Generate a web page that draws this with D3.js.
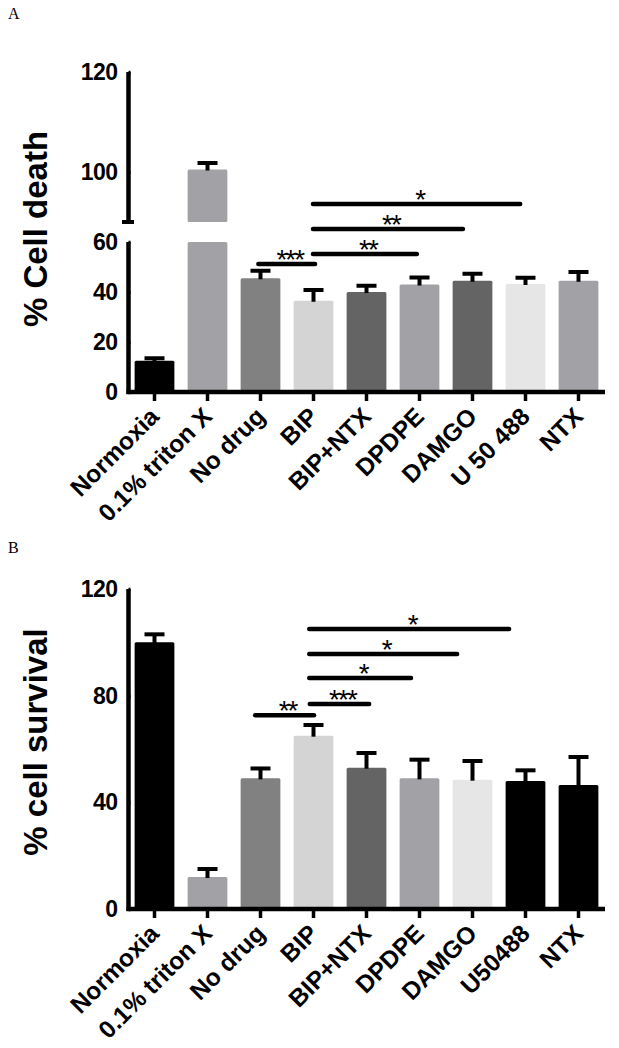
<!DOCTYPE html>
<html><head><meta charset="utf-8">
<script src="https://cdn.jsdelivr.net/npm/d3@7"></script>
<style>body{margin:0;background:#fff} svg{display:block}</style>
</head><body><svg id="c" width="619" height="1048"></svg>
<script>
// ---------- data ----------
const categoriesA = ["Normoxia","0.1% triton X","No drug","BIP","BIP+NTX","DPDPE","DAMGO","U 50 488","NTX"];
const categoriesB = ["Normoxia","0.1% triton X","No drug","BIP","BIP+NTX","DPDPE","DAMGO","U50488","NTX"];
const deathMean = [12.5, 100.5, 45.5, 36.5, 40, 43, 44.5, 43.2, 44.5];
const deathErr  = [1.0, 1.3, 3.0, 4.3, 2.5, 2.8, 2.8, 2.5, 3.5];
const survivalMean = [100, 12, 49, 65, 53, 49, 48.5, 48, 46.5];
const survivalErr  = [3.0, 3.0, 3.7, 4.0, 5.5, 7.0, 7.0, 4.0, 10.5];
const deathTicksLow = [0, 20, 40, 60];
const deathTicksHigh = [100, 120];
const survivalTicks = [0, 40, 80, 120];
// significance: [fromIndex, toIndex, yValue, label]
const sigDeath = [[1.96, 3.03, 51.2, "***"], [2.99, 4.95, 55.2, "**"], [2.99, 5.82, 65.2, "**"], [2.99, 6.9, 75.2, "*"]];
const sigSurvival = [[1.9, 3.01, 72.7, "**"], [2.93, 4.05, 76.9, "***"], [2.92, 4.84, 86.6, "*"], [2.92, 5.71, 95.6, "*"], [2.92, 6.69, 105, "*"]];

// ---------- styles ----------
const fillA = ["#000000","#a2a2a6","#818181","#d4d4d4","#646464","#a2a2a6","#646464","#e6e6e6","#a2a2a6"];
const fillB = ["#000000","#a2a2a6","#818181","#d4d4d4","#646464","#a2a2a6","#e6e6e6","#000000","#000000"];
const FONT = "'Liberation Sans', Arial, Helvetica, sans-serif";

const svg = d3.select("#c");

function panel(o) {
  const g = svg.append("g");
  const x = d3.scaleBand().domain(o.cats).range([128, 605]).paddingInner(0.25).paddingOuter(0.125);
  const bw = x.bandwidth();
  const cx = c => x(c) + bw / 2;
  const xi = d3.scaleLinear().domain([0, o.cats.length - 1]).range([cx(o.cats[0]), cx(o.cats[o.cats.length - 1])]);
  const segs = o.segments.map(s => Object.assign({}, s, {y: d3.scaleLinear().domain(s.domain).range(s.range)}));
  const segFor = v => segs.find(s => v >= s.domain[0] && v <= s.domain[1]) || segs[0];

  // bars (split across axis segments when broken)
  o.cats.forEach((c, i) => {
    const v = o.means[i];
    segs.forEach(s => {
      if (v <= s.domain[0]) return;
      const top = s.y(Math.min(v, s.domain[1]));
      const bot = s.y(s.domain[0]);
      g.append("rect").attr("x", x(c)).attr("width", bw)
        .attr("y", top).attr("height", bot - top)
        .attr("rx", 1.5).attr("fill", o.fills[i]);
    });
  });
  // error bars (upper only)
  o.cats.forEach((c, i) => {
    const v = o.means[i], e = o.errs[i];
    const s = segFor(v);
    const y0 = s.y(v), y1 = s.y(v + e);
    g.append("line").attr("x1", cx(c)).attr("x2", cx(c)).attr("y1", y0 + 1).attr("y2", y1)
      .attr("stroke", "#000").attr("stroke-width", 4);
    g.append("line").attr("x1", cx(c) - 10).attr("x2", cx(c) + 10).attr("y1", y1).attr("y2", y1)
      .attr("stroke", "#000").attr("stroke-width", 4);
  });

  // y axis segments
  segs.forEach(s => {
    const ax = g.append("g").attr("transform", "translate(128.5,0)")
      .call(d3.axisLeft(s.y).tickValues(s.ticks).tickSize(10).tickSizeOuter(0).tickPadding(1).tickFormat(d3.format("d")));
    ax.attr("font-size", null).attr("font-family", null);
    ax.select(".domain").attr("stroke", "#000").attr("stroke-width", 4.5)
      .attr("d", `M0,${s.range[0] + (s.isBottom ? 2 : 0)}V${s.range[1]}`);
    ax.selectAll(".tick line").attr("stroke", "#000").attr("stroke-width", 3.5).attr("x2", 2);
    ax.selectAll(".tick text")
      .style("font-family", FONT).style("font-weight", "bold").style("font-size", "23px")
      .attr("fill", "#000").style("letter-spacing", "-0.5px");
    if (s.capBottom) {
      g.append("line").attr("x1", 122).attr("x2", 134).attr("y1", s.range[0]).attr("y2", s.range[0])
        .attr("stroke", "#000").attr("stroke-width", 4);
    }
  });

  // x axis
  const xa = g.append("g").attr("transform", `translate(0,${o.axisY})`)
    .call(d3.axisBottom(x).tickSize(9).tickSizeOuter(0).tickPadding(0));
  xa.attr("font-size", null).attr("font-family", null);
  xa.select(".domain").attr("stroke", "#000").attr("stroke-width", 4.5).attr("d", "M126.5,0H605");
  xa.selectAll(".tick line").attr("stroke", "#000").attr("stroke-width", 3.5);
  xa.selectAll(".tick text")
    .style("font-family", FONT).style("font-weight", "bold").style("font-size", "24.5px").attr("fill", "#000")
    .attr("text-anchor", "end").attr("y", 0).attr("dy", 0)
    .attr("transform", "translate(6,26) rotate(-45)");

  // significance brackets
  const ys = segs.find(s => s.isBottom).y;
  o.sig.forEach(([a, b, yv, lab]) => {
    const yy = ys(yv);
    g.append("line").attr("x1", xi(a)).attr("x2", xi(b)).attr("y1", yy).attr("y2", yy)
      .attr("stroke", "#000").attr("stroke-width", 4.5).attr("stroke-linecap", "round");
    g.append("text").attr("x", (xi(a) + xi(b)) / 2 + 3).attr("y", yy + 5)
      .attr("text-anchor", "middle").style("font-family", FONT).style("font-size", "28px")
      .style("letter-spacing", "-2px").text(lab);
  });

  // titles
  g.append("text").attr("transform", `translate(47,${o.titleY}) rotate(-90)`)
    .attr("text-anchor", "middle").style("font-family", FONT).style("font-weight", "bold")
    .style("font-size", "33px").text(o.title);
  g.append("text").attr("x", 8).attr("y", o.letterY).style("font-family", "'Liberation Serif', 'Times New Roman', serif")
    .style("font-size", "16px").text(o.letter);
}

panel({
  cats: categoriesA, means: deathMean, errs: deathErr, fills: fillA, axisY: 392,
  segments: [
    {domain: [0, 60], range: [392, 242], ticks: deathTicksLow, isBottom: true},
    {domain: [90, 120], range: [222, 72], ticks: deathTicksHigh, capBottom: true}
  ],
  sig: sigDeath, title: "% Cell death", titleY: 229, letter: "A", letterY: 19
});
panel({
  cats: categoriesB, means: survivalMean, errs: survivalErr, fills: fillB, axisY: 909,
  segments: [
    {domain: [0, 120], range: [909, 589], ticks: survivalTicks, isBottom: true}
  ],
  sig: sigSurvival, title: "% cell survival", titleY: 742, letter: "B", letterY: 553
});
</script></body></html>
